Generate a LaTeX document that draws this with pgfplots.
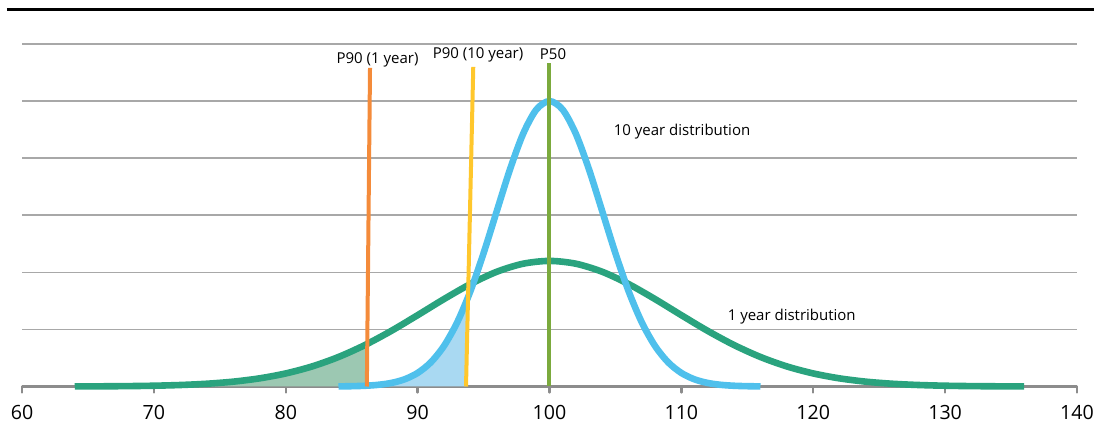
\documentclass[border=0pt]{standalone}
\usepackage{fontspec}
\setmainfont{Open Sans}
\usepackage{pgfplots}
\pgfplotsset{compat=1.18}
\definecolor{cgreen}{HTML}{2AA37E}
\definecolor{cgreenfill}{HTML}{9CC8B2}
\definecolor{cblue}{HTML}{4FC0EC}
\definecolor{cbluefill}{HTML}{A9D9F2}
\definecolor{corange}{HTML}{F48B3A}
\definecolor{cyellow}{HTML}{FFC72C}
\definecolor{cp50}{HTML}{7BAA3D}
\definecolor{gridgray}{HTML}{A8A8A8}
\definecolor{axisgray}{HTML}{8C8C8C}
\begin{document}
\begin{tikzpicture}
\path[use as bounding box] (0,0) rectangle (547pt,211.5pt);
\begin{axis}[
  at={(11pt,18.25pt)}, anchor=south west,
  scale only axis, width=527.5pt, height=171.25pt,
  xmin=60, xmax=140, ymin=0, ymax=6,
  clip=false,
  axis x line*=bottom, axis y line*=left,
  y axis line style={draw=none},
  x axis line style={draw=axisgray, line width=1.5pt, -},
  xtick={60,70,...,140},
  xtick align=outside,
  x tick style={draw=axisgray, line width=1.2pt, line cap=round},
  major tick length=3pt,
  ytick={1,2,3,4,5,6}, yticklabels={}, y tick style={draw=none},
  ymajorgrids, grid style={gridgray, line width=0.75pt},
  /pgf/number format/assume math mode=true,
  xticklabel style={font=\fontsize{9.8}{12}\selectfont, text=black, yshift=-3pt},
]
% shaded tails
\addplot[fill=cgreenfill, draw=none] coordinates {
(64,0) (64,0.0014) (65,0.0021) (66,0.0032) (67,0.0046) (68,0.0067) (69,0.0096)
(70,0.0135) (71,0.0189) (72,0.0260) (73,0.0355) (74,0.0480) (75,0.0640)
(76,0.0845) (77,0.1103) (78,0.1422) (79,0.1814) (80,0.2288) (81,0.2852)
(82,0.3517) (83,0.4288) (84,0.5168) (85,0.6159) (86,0.7257) (86.15,0.743)
(86.15,0)} -- cycle;
\addplot[fill=cbluefill, draw=none] coordinates {
(84,0) (84,0.0020) (85,0.0053) (86,0.0127) (87,0.029) (88,0.062) (89,0.125)
(90,0.237) (91,0.423) (92,0.711) (92.5,0.900) (93,1.123) (93.5,1.379) (93.67,1.474)
(93.67,0)} -- cycle;
% 1 year distribution
\addplot[cgreen, line width=3.3pt, smooth] coordinates {
(64,0.0014) (66,0.0032) (68,0.0067) (70,0.0135) (72,0.0260) (74,0.0480)
(76,0.0845) (78,0.1422) (80,0.2288) (82,0.3517) (84,0.5168) (86,0.7257)
(88,0.9739) (90,1.2493) (92,1.5315) (94,1.7945) (96,2.0096) (98,2.1508)
(100,2.2000) (102,2.1508) (104,2.0096) (106,1.7945) (108,1.5315) (110,1.2493)
(112,0.9739) (114,0.7257) (116,0.5168) (118,0.3517) (120,0.2288) (122,0.1422)
(124,0.0845) (126,0.0480) (128,0.0260) (130,0.0135) (132,0.0067) (134,0.0032)
(136,0.0014)};
% 10 year distribution
\addplot[cblue, line width=3.3pt, smooth] coordinates {
(84,0.0020) (85,0.0053) (86,0.0127) (87,0.029) (88,0.062) (89,0.125)
(90,0.237) (91,0.423) (92,0.711) (93,1.123) (94,1.669) (95,2.334)
(96,3.070) (97,3.800) (98,4.426) (99,4.850) (100,5.000) (101,4.850)
(102,4.426) (103,3.800) (104,3.070) (105,2.334) (106,1.669) (107,1.123)
(108,0.711) (109,0.423) (110,0.237) (111,0.125) (112,0.062) (113,0.029)
(114,0.0127) (115,0.0053) (116,0.0020)};
% percentile lines
\addplot[corange, line width=2pt] coordinates {(86.15,0) (86.39,5.58)};
\addplot[cyellow, line width=2pt] coordinates {(93.67,0) (94.22,5.6)};
\addplot[cp50, line width=2pt] coordinates {(100,0) (100,5.67)};
\node[font=\fontsize{7.5}{9}\selectfont] at (axis cs:86.96,5.73) {P90 (1 year)};
\node[font=\fontsize{7.5}{9}\selectfont] at (axis cs:94.58,5.81) {P90 (10 year)};
\node[font=\fontsize{7.5}{9}\selectfont] at (axis cs:100.27,5.82) {P50};
\node[font=\fontsize{7.5}{9}\selectfont] at (axis cs:110.05,4.46) {10 year distribution};
\node[font=\fontsize{7.5}{9}\selectfont] at (axis cs:118.37,1.22) {1 year distribution};
\draw[black, line width=1.5pt] (axis cs:58.86,6.596) -- (axis cs:142,6.596);
\end{axis}
\end{tikzpicture}
\end{document}
